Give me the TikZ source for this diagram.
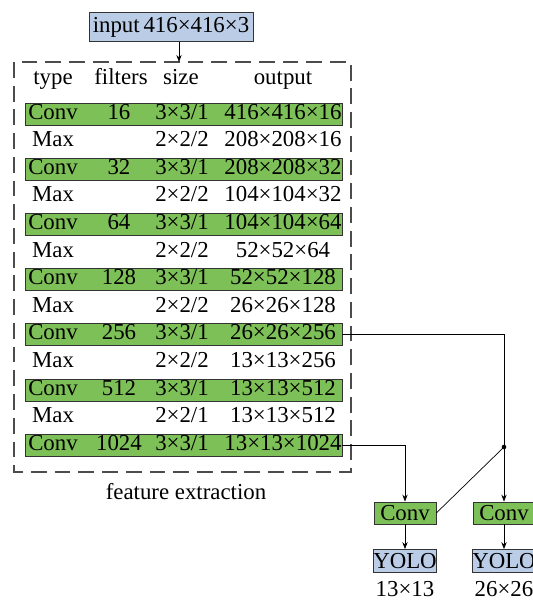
\documentclass[tikz,border=0pt]{standalone}
\usepackage{fontspec}
\setmainfont{Liberation Serif}
\usetikzlibrary{arrows.meta}
\definecolor{convgreen}{RGB}{126,192,88}
\definecolor{yoloblue}{RGB}{186,204,230}
\begin{document}
\begin{tikzpicture}[x=0.02cm,y=-0.02cm,font=\fontsize{13}{15}\selectfont,
  bar/.style={draw=black!80,fill=convgreen,minimum width=6.34cm,minimum height=0.44cm,inner sep=0pt},
  convbox/.style={draw=black!80,fill=convgreen,minimum width=1.24cm,minimum height=0.44cm,inner sep=0pt},
  yolobox/.style={draw=black!80,fill=yoloblue,minimum width=1.24cm,minimum height=0.46cm,inner sep=0pt},
  cell/.style={inner sep=0pt,anchor=base},
  boxdash/.style={draw=black!70,line width=0.9pt,dash pattern=on 9pt off 4.5pt},
  link/.style={-{Stealth[length=4pt,width=3pt]}}]
\clip (0,0) rectangle (533,600);
\def\ya{114};
\def\dy{27.6};
\def\yb{5};
\def\xt{53};
\def\xf{119};
\def\xs{182};
\def\xo{283};

% input and feature extraction box
\node[draw=black!80,fill=yoloblue,minimum width=3.28cm,minimum height=0.58cm,inner sep=0pt] (in) at (171,27) {input\,416×416×3};
\draw[boxdash] (14,62) rectangle (351,472);
\coordinate (boxtop) at (179,62);
\draw[link] (in.south -| boxtop) -- (boxtop);

\node[cell] (ht) at (\xt,84) {type};
\node[cell] (hf) at (\xf+2,84) {filters};
\node[cell] (hs) at (\xs-1,84) {size};
\node[cell] (ho) at (\xo,84) {output};

% layers
\node[bar] (c0) at (183.5,\ya) {};
\node[cell] (t0) at (\xt,\ya+\yb) {Conv};
\node[cell] (f0) at (\xf,\ya+\yb) {16};
\node[cell] (s0) at (\xs,\ya+\yb) {3×3/1};
\node[cell] (o0) at (\xo,\ya+\yb) {416×416×16};

\node[cell] (t1) at (\xt,\ya+\dy+\yb) {Max};
\node[cell] (s1) at (\xs,\ya+\dy+\yb) {2×2/2};
\node[cell] (o1) at (\xo,\ya+\dy+\yb) {208×208×16};

\node[bar] (c2) at (183.5,\ya+2*\dy) {};
\node[cell] (t2) at (\xt,\ya+2*\dy+\yb) {Conv};
\node[cell] (f2) at (\xf,\ya+2*\dy+\yb) {32};
\node[cell] (s2) at (\xs,\ya+2*\dy+\yb) {3×3/1};
\node[cell] (o2) at (\xo,\ya+2*\dy+\yb) {208×208×32};

\node[cell] (t3) at (\xt,\ya+3*\dy+\yb) {Max};
\node[cell] (s3) at (\xs,\ya+3*\dy+\yb) {2×2/2};
\node[cell] (o3) at (\xo,\ya+3*\dy+\yb) {104×104×32};

\node[bar] (c4) at (183.5,\ya+4*\dy) {};
\node[cell] (t4) at (\xt,\ya+4*\dy+\yb) {Conv};
\node[cell] (f4) at (\xf,\ya+4*\dy+\yb) {64};
\node[cell] (s4) at (\xs,\ya+4*\dy+\yb) {3×3/1};
\node[cell] (o4) at (\xo,\ya+4*\dy+\yb) {104×104×64};

\node[cell] (t5) at (\xt,\ya+5*\dy+\yb) {Max};
\node[cell] (s5) at (\xs,\ya+5*\dy+\yb) {2×2/2};
\node[cell] (o5) at (\xo,\ya+5*\dy+\yb) {52×52×64};

\node[bar] (c6) at (183.5,\ya+6*\dy) {};
\node[cell] (t6) at (\xt,\ya+6*\dy+\yb) {Conv};
\node[cell] (f6) at (\xf,\ya+6*\dy+\yb) {128};
\node[cell] (s6) at (\xs,\ya+6*\dy+\yb) {3×3/1};
\node[cell] (o6) at (\xo,\ya+6*\dy+\yb) {52×52×128};

\node[cell] (t7) at (\xt,\ya+7*\dy+\yb) {Max};
\node[cell] (s7) at (\xs,\ya+7*\dy+\yb) {2×2/2};
\node[cell] (o7) at (\xo,\ya+7*\dy+\yb) {26×26×128};

\node[bar] (c8) at (183.5,\ya+8*\dy) {};
\node[cell] (t8) at (\xt,\ya+8*\dy+\yb) {Conv};
\node[cell] (f8) at (\xf,\ya+8*\dy+\yb) {256};
\node[cell] (s8) at (\xs,\ya+8*\dy+\yb) {3×3/1};
\node[cell] (o8) at (\xo,\ya+8*\dy+\yb) {26×26×256};

\node[cell] (t9) at (\xt,\ya+9*\dy+\yb) {Max};
\node[cell] (s9) at (\xs,\ya+9*\dy+\yb) {2×2/2};
\node[cell] (o9) at (\xo,\ya+9*\dy+\yb) {13×13×256};

\node[bar] (c10) at (183.5,\ya+10*\dy) {};
\node[cell] (t10) at (\xt,\ya+10*\dy+\yb) {Conv};
\node[cell] (f10) at (\xf,\ya+10*\dy+\yb) {512};
\node[cell] (s10) at (\xs,\ya+10*\dy+\yb) {3×3/1};
\node[cell] (o10) at (\xo,\ya+10*\dy+\yb) {13×13×512};

\node[cell] (t11) at (\xt,\ya+11*\dy+\yb) {Max};
\node[cell] (s11) at (\xs,\ya+11*\dy+\yb) {2×2/1};
\node[cell] (o11) at (\xo,\ya+11*\dy+\yb) {13×13×512};

\node[bar] (c12) at (183.5,\ya+12*\dy) {};
\node[cell] (t12) at (\xt,\ya+12*\dy+\yb) {Conv};
\node[cell] (f12) at (\xf,\ya+12*\dy+\yb) {1024};
\node[cell] (s12) at (\xs,\ya+12*\dy+\yb) {3×3/1};
\node[cell] (o12) at (\xo,\ya+12*\dy+\yb) {13×13×1024};

\node (fe) at (186,492) {feature extraction};

% detection heads
\node[convbox] (conv1) at (405,513) {Conv};
\node[convbox] (conv2) at (504,513) {Conv};
\node[yolobox] (yolo1) at (405,561) {YOLO};
\node[yolobox] (yolo2) at (504,561) {YOLO};
\node (l1) at (405,589) {13×13};
\node (l2) at (504,589) {26×26};

\coordinate (split) at (504,447);
\draw[link] (c8.east) -| (conv2.north);
\draw[link] (c12.east) -| (conv1.north);
\draw (conv1.east) -- (split);
\fill (split) circle (1.3pt);
\draw[link] (conv1.south) -- (yolo1.north);
\draw[link] (conv2.south) -- (yolo2.north);
\end{tikzpicture}
\end{document}
